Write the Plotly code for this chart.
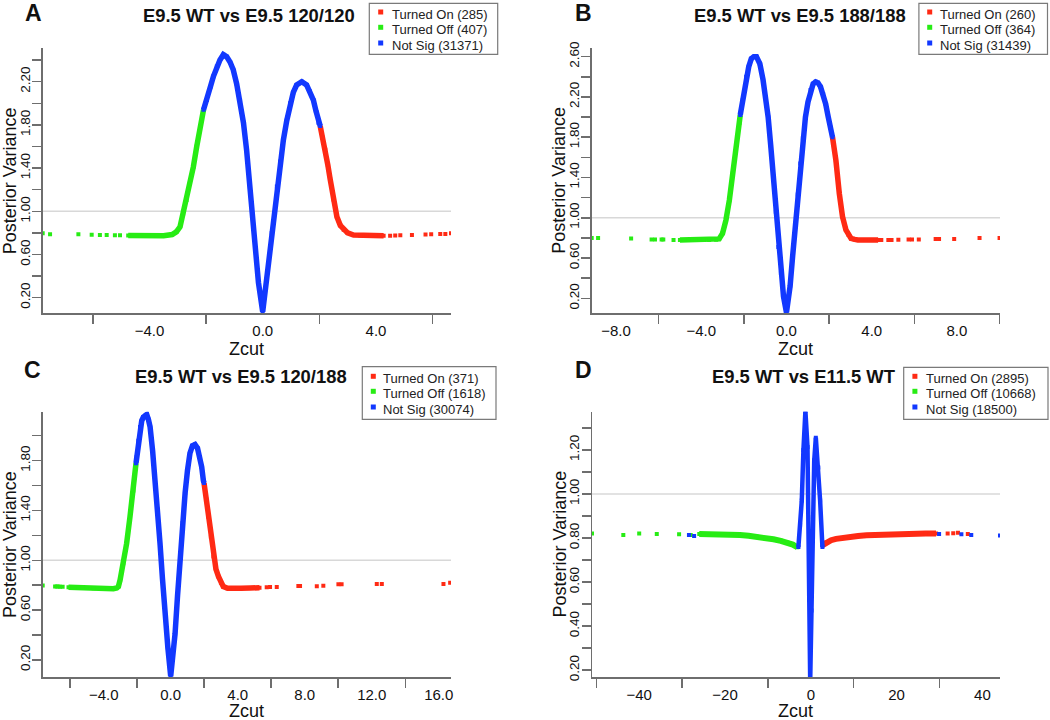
import plotly.graph_objects as go

W, H = 1050, 720
FONT = "Liberation Sans, Arial, Helvetica, sans-serif"
RED = "#ff2a14"
GREEN = "#27ec14"
BLUE = "#1238ff"
AXIS = "#6e6e6e"

# ---------------- data ----------------
# Panel A : E9.5 WT vs E9.5 120/120
A_off_tail_x = [-7.77, -7.51, -6.51, -6.04, -5.75, -5.51, -5.22, -5.04]
A_off_tail_y = [0.796, 0.787, 0.787, 0.783, 0.780, 0.780, 0.778, 0.778]
A_off_x = [-4.75, -4.3, -3.9, -3.5, -3.2, -3.05, -2.92, -2.81, -2.69, -2.57, -2.45, -2.33, -2.21, -2.09]
A_off_y = [0.776, 0.774, 0.772, 0.774, 0.785, 0.81, 0.857, 0.98, 1.105, 1.26, 1.41, 1.60, 1.79, 1.94]
A_ns_x = [-2.09, -1.97, -1.85, -1.74, -1.62, -1.51, -1.39, -1.27, -1.15, -1.04, -0.92, -0.80, -0.68,
          -0.57, -0.45, -0.33, -0.15, 0.0, 0.14, 0.32, 0.50, 0.62, 0.73, 0.85, 0.97, 1.08, 1.20,
          1.38, 1.55, 1.67, 1.79, 1.88, 1.97, 2.03]
A_ns_y = [1.94, 2.03, 2.15, 2.25, 2.34, 2.40, 2.45, 2.43, 2.38, 2.31, 2.18, 2.03, 1.82,
          1.57, 1.22, 0.86, 0.34, 0.07, 0.37, 0.80, 1.23, 1.46, 1.66, 1.84, 2.00, 2.10, 2.17,
          2.20, 2.17, 2.11, 2.03, 1.93, 1.82, 1.79]
A_on_x = [2.03, 2.12, 2.21, 2.30, 2.38, 2.50, 2.62, 2.74, 2.86, 3.0, 3.21, 3.45, 3.68, 4.0, 4.27]
A_on_y = [1.79, 1.68, 1.57, 1.43, 1.30, 1.11, 0.95, 0.87, 0.83, 0.80, 0.78, 0.776, 0.774, 0.774, 0.774]
A_on_tail_x = [4.5, 4.68, 4.86, 5.27, 5.75, 5.95, 6.27, 6.45, 6.65]
A_on_tail_y = [0.775, 0.776, 0.778, 0.78, 0.786, 0.787, 0.79, 0.79, 0.796]

# Panel B : E9.5 WT vs E9.5 188/188
B_off_tail_x = [-9.14, -8.84, -7.29, -6.33, -6.17, -5.86, -5.78, -5.30]
B_off_tail_y = [0.80, 0.80, 0.795, 0.785, 0.785, 0.785, 0.785, 0.779]
B_off_x = [-5.0, -4.6, -4.27, -3.9, -3.63, -3.3, -3.16, -3.0, -2.84, -2.68, -2.52, -2.37, -2.21, -2.17]
B_off_y = [0.779, 0.779, 0.779, 0.779, 0.779, 0.782, 0.79, 0.845, 0.977, 1.175, 1.44, 1.70, 1.94, 2.02]
B_ns_x = [-2.17, -2.05, -1.89, -1.77, -1.65, -1.53, -1.41, -1.25, -1.10, -0.98, -0.86, -0.74, -0.62,
          -0.50, -0.38, -0.26, -0.14, 0.0, 0.17, 0.29, 0.41, 0.53, 0.65, 0.77, 0.89, 1.01, 1.13,
          1.25, 1.37, 1.48, 1.60, 1.72, 1.84, 1.95, 2.05, 2.16]
B_ns_y = [2.02, 2.17, 2.40, 2.50, 2.58, 2.60, 2.60, 2.53, 2.37, 2.20, 2.00, 1.72, 1.41,
          1.06, 0.71, 0.45, 0.22, 0.06, 0.32, 0.62, 0.91, 1.23, 1.54, 1.79, 2.00, 2.15, 2.27,
          2.33, 2.35, 2.34, 2.30, 2.23, 2.13, 2.01, 1.90, 1.80]
B_on_x = [2.16, 2.32, 2.48, 2.63, 2.79, 2.91, 3.03, 3.2, 3.35, 3.7, 3.98, 4.3]
B_on_y = [1.80, 1.57, 1.24, 1.01, 0.88, 0.83, 0.795, 0.785, 0.779, 0.779, 0.779, 0.779]
B_on_tail_x = [4.45, 4.78, 4.93, 5.25, 5.73, 5.89, 6.21, 7.0, 7.16, 7.87, 9.06, 10.0]
B_on_tail_y = [0.779, 0.779, 0.779, 0.782, 0.785, 0.785, 0.785, 0.79, 0.79, 0.79, 0.80, 0.80]

# Panel C : E9.5 WT vs E9.5 120/188
C_off_tail_x = [-7.64, -6.9, -6.8, -6.7, -6.6, -6.45]
C_off_tail_y = [0.797, 0.789, 0.789, 0.789, 0.787, 0.787]
C_off_x = [-6.1, -5.5, -5.01, -4.6, -4.22, -3.8, -3.42, -3.22, -3.12, -3.02, -2.83, -2.63, -2.43, -2.23, -2.07]
C_off_y = [0.783, 0.780, 0.778, 0.775, 0.772, 0.772, 0.772, 0.778, 0.79, 0.842, 0.976, 1.136, 1.35, 1.56, 1.78]
C_ns_x = [-2.07, -2.03, -1.93, -1.83, -1.73, -1.63, -1.53, -1.43, -1.33, -1.23, -1.08, -0.94, -0.79,
          -0.64, -0.49, -0.34, -0.17, 0.0, 0.13, 0.26, 0.41, 0.56, 0.71, 0.86, 1.0, 1.15, 1.30,
          1.45, 1.60, 1.75, 1.85, 1.95, 1.99]
C_ns_y = [1.78, 1.83, 1.96, 2.07, 2.12, 2.15, 2.16, 2.17, 2.13, 2.07, 1.88, 1.67, 1.41,
          1.14, 0.85, 0.55, 0.30, 0.07, 0.23, 0.41, 0.72, 1.03, 1.30, 1.54, 1.72, 1.86, 1.92,
          1.93, 1.90, 1.83, 1.75, 1.64, 1.62]
C_on_x = [1.99, 2.12, 2.25, 2.4, 2.55, 2.7, 2.85, 3.0, 3.14, 3.4, 3.74, 4.2, 4.74, 5.3]
C_on_y = [1.62, 1.49, 1.35, 1.19, 1.03, 0.93, 0.87, 0.82, 0.789, 0.775, 0.772, 0.775, 0.778, 0.78]
C_on_tail_x = [5.73, 5.93, 6.33, 7.62, 7.72, 8.72, 9.11, 10.01, 10.2, 12.3, 12.6, 16.28, 16.68]
C_on_tail_y = [0.783, 0.785, 0.785, 0.794, 0.794, 0.792, 0.796, 0.807, 0.807, 0.81, 0.81, 0.81, 0.82]

# Panel D : E9.5 WT vs E11.5 WT
D_off_tail_x = [-51.0, -43.7, -40.0, -35.9, -30.7, -28.0]
D_off_tail_y = [0.821, 0.814, 0.821, 0.818, 0.817, 0.814]
D_off_x = [-26.0, -23.0, -20.5, -18.5, -16.5, -14.5, -12.6, -10.6, -8.7, -7.0, -5.5, -4.2, -3.15]
D_off_y = [0.818, 0.818, 0.817, 0.816, 0.814, 0.810, 0.806, 0.800, 0.794, 0.787, 0.779, 0.770, 0.758]
D_ns_x = [-2.89, -2.5, -2.1, -1.72, -1.26, -0.77, -0.40, -0.14, 0.16, 0.49, 0.80, 1.17, 1.75, 2.17, 2.71]
D_ns_y = [0.759, 0.86, 0.971, 1.20, 1.377, 1.214, 0.623, 0.15, 0.47, 0.895, 1.153, 1.256, 1.12, 0.971, 0.759]
D_ns_pts_x = [-28.4, -27.2, 29.9, 35.1, 37.4, 44.1]
D_ns_pts_y = [0.814, 0.809, 0.818, 0.817, 0.814, 0.811]
D_on_x = [2.76, 3.6, 4.73, 5.9, 7.09, 9.0, 11.0, 13.0, 15.0, 18.9, 22.9, 26.8, 29.2]
D_on_y = [0.768, 0.780, 0.790, 0.796, 0.800, 0.805, 0.809, 0.812, 0.814, 0.817, 0.818, 0.820, 0.821]
D_on_tail_x = [31.9, 33.2, 34.3, 36.6]
D_on_tail_y = [0.821, 0.822, 0.824, 0.818]

# legend counts
A_counts = [285, 407, 31371]
B_counts = [260, 364, 31439]
C_counts = [371, 1618, 30074]
D_counts = [2895, 10668, 18500]

# tick labels
A_xmajor = [-4, 0, 4]
A_xminor = [-6, -2, 2, 6]
B_xmajor = [-8, -4, 0, 4, 8]
B_xminor = [-6, -2, 2, 6, 10]
C_xmajor = [-4, 0, 4, 8, 12, 16]
C_xminor = [-6, -2, 2, 6, 10, 14]
D_xmajor = [-40, -20, 0, 20, 40]
D_xminor = [-50, -30, -10, 10, 30]
A_ymajor = [0.2, 0.6, 1.0, 1.4, 1.8, 2.2]
A_yminor = [0.4, 0.8, 1.2, 1.6, 2.0, 2.4]
B_ymajor = [0.2, 0.6, 1.0, 1.4, 1.8, 2.2, 2.6]
B_yminor = [0.4, 0.8, 1.2, 1.6, 2.0, 2.4]
C_ymajor = [0.2, 0.6, 1.0, 1.4, 1.8]
C_yminor = [0.4, 0.8, 1.2, 1.6, 2.0]
D_ymajor = [0.2, 0.4, 0.6, 0.8, 1.0, 1.2]
D_yminor = [0.3, 0.5, 0.7, 0.9, 1.1, 1.3]

titles = ["E9.5 WT vs E9.5 120/120", "E9.5 WT vs E9.5 188/188",
          "E9.5 WT vs E9.5 120/188", "E9.5 WT vs E11.5 WT"]
letters = ["A", "B", "C", "D"]
labels = ["Turned On", "Turned Off", "Not Sig"]

# ---------------- layout geometry (pixels) ----------------
def PX(p):
    return p / W


def PY(p):
    return 1 - p / H


panels = [
    dict(xpx=(42.7, 451.0), ypx=(48.3, 313.3), xr=(-7.77, 6.65), yr=(0.056, 2.509),
         xfmt=".1f", yfmt=".2f", xmaj=A_xmajor, xmin=A_xminor, ymaj=A_ymajor, ymin=A_yminor,
         data=(A_off_tail_x, A_off_tail_y, A_off_x, A_off_y, A_ns_x, A_ns_y, A_on_x, A_on_y,
               A_on_tail_x, A_on_tail_y), counts=A_counts,
         title=(249.2, 15), letter=(33.5, 13), legend=(369.3, 3.3, 497.7, 54.3, 380.7, 391.7),
         rows=(14, 29.3, 45), ytitle=(9.5, 180.8), xtitle=(246.9, 349.3), width=5.5),
    dict(xpx=(591.7, 1000.0), ypx=(48.3, 313.3), xr=(-9.14, 10.02), yr=(0.051, 2.683),
         xfmt=".1f", yfmt=".2f", xmaj=B_xmajor, xmin=B_xminor, ymaj=B_ymajor, ymin=B_yminor,
         data=(B_off_tail_x, B_off_tail_y, B_off_x, B_off_y, B_ns_x, B_ns_y, B_on_x, B_on_y,
               B_on_tail_x, B_on_tail_y), counts=B_counts,
         title=(800.3, 15), letter=(583.4, 13), legend=(918.9, 3.3, 1047.5, 54.3, 929.7, 940.2),
         rows=(14, 29.3, 45), ytitle=(559.0, 180.8), xtitle=(795.8, 349.3), width=5.5),
    dict(xpx=(42.7, 451.0), ypx=(411.7, 677.3), xr=(-7.64, 16.73), yr=(0.061, 2.193),
         xfmt=".1f", yfmt=".2f", xmaj=C_xmajor, xmin=C_xminor, ymaj=C_ymajor, ymin=C_yminor,
         data=(C_off_tail_x, C_off_tail_y, C_off_x, C_off_y, C_ns_x, C_ns_y, C_on_x, C_on_y,
               C_on_tail_x, C_on_tail_y), counts=C_counts,
         title=(240.8, 376.7), letter=(32.8, 370), legend=(362.3, 366.7, 496.0, 419.3, 373.3, 383.3),
         rows=(378.3, 393.3, 409.0), ytitle=(9.5, 544.5), xtitle=(246.9, 711.2), width=5.5),
    dict(xpx=(592.0, 1000.0), ypx=(411.7, 677.3), xr=(-51.0, 44.1), yr=(0.167, 1.374),
         xfmt="d", yfmt=".2f", xmaj=D_xmajor, xmin=D_xminor, ymaj=D_ymajor, ymin=D_yminor,
         data=(D_off_tail_x, D_off_tail_y, D_off_x, D_off_y, D_ns_x, D_ns_y, D_on_x, D_on_y,
               D_on_tail_x, D_on_tail_y), counts=D_counts,
         title=(803.7, 376.7), letter=(583.4, 370), legend=(903.7, 367.3, 1048.0, 419.3, 914.9, 925.7),
         rows=(378.3, 393.3, 409.0), ytitle=(559.0, 544.5), xtitle=(795.8, 711.2), width=6),
]

fig = go.Figure()
shapes = []
annotations = []

for i, p in enumerate(panels):
    n = "" if i == 0 else str(i + 1)
    xa, ya = "x" + n, "y" + n
    (otx, oty, ox, oy, nx, ny, onx, ony, ontx, onty) = p["data"]
    lw = p["width"]
    mk = dict(symbol="square", size=4)

    fig.add_trace(go.Scatter(x=otx, y=oty, mode="markers", xaxis=xa, yaxis=ya,
                             marker=dict(color=GREEN, **mk), showlegend=False, cliponaxis=True))
    fig.add_trace(go.Scatter(x=ox, y=oy, mode="lines+markers", xaxis=xa, yaxis=ya,
                             line=dict(color=GREEN, width=lw), marker=dict(color=GREEN, **mk),
                             showlegend=False))
    fig.add_trace(go.Scatter(x=onx, y=ony, mode="lines+markers", xaxis=xa, yaxis=ya,
                             line=dict(color=RED, width=lw), marker=dict(color=RED, **mk),
                             showlegend=False))
    fig.add_trace(go.Scatter(x=ontx, y=onty, mode="markers", xaxis=xa, yaxis=ya,
                             marker=dict(color=RED, **mk), showlegend=False))
    fig.add_trace(go.Scatter(x=nx, y=ny, mode="lines+markers", xaxis=xa, yaxis=ya,
                             line=dict(color=BLUE, width=lw if i < 3 else 4.5),
                             marker=dict(color=BLUE, **mk), showlegend=False))
    if i == 3:
        fig.add_trace(go.Scatter(x=D_ns_pts_x, y=D_ns_pts_y, mode="markers", xaxis=xa, yaxis=ya,
                                 marker=dict(color=BLUE, **mk), showlegend=False))

    xd = [PX(p["xpx"][0]), PX(p["xpx"][1])]
    yd = [PY(p["ypx"][1]), PY(p["ypx"][0])]
    fig.layout["xaxis" + n] = dict(
        domain=xd, anchor=ya, range=list(p["xr"]), showline=True, linecolor=AXIS, linewidth=1.5,
        showgrid=False, zeroline=False, ticks="outside", ticklen=3, tickcolor="rgba(0,0,0,0)",
        tickmode="array", tickvals=p["xmaj"], tickformat=p["xfmt"],
        tickfont=dict(family=FONT, size=15, color="#111111"),
        minor=dict(ticks="outside", tickmode="array", tickvals=p["xmin"], ticklen=9,
                   tickcolor=AXIS, tickwidth=1.5),
        automargin=False, fixedrange=True)
    fig.layout["yaxis" + n] = dict(
        domain=yd, anchor=xa, range=list(p["yr"]), showline=True, linecolor=AXIS, linewidth=1.5,
        showgrid=False, zeroline=False, ticks="outside", ticklen=9, tickcolor=AXIS, tickwidth=1.5,
        tickmode="array", tickvals=p["ymaj"], tickformat=p["yfmt"], tickangle=-90,
        ticklabelstandoff=-3,
        tickfont=dict(family=FONT, size=13.5, color="#111111"),
        minor=dict(ticks="outside", tickmode="array", tickvals=p["ymin"], ticklen=9,
                   tickcolor=AXIS, tickwidth=1.5),
        automargin=False, fixedrange=True)

    # reference line at 1.0
    shapes.append(dict(type="line", xref=xa + " domain", yref=ya, x0=0, x1=1, y0=1.0, y1=1.0,
                       line=dict(color="#d8d8d8", width=1.5), layer="below"))

    # titles & letters
    annotations.append(dict(text="<b>%s</b>" % titles[i], x=PX(p["title"][0]), y=PY(p["title"][1]),
                            xref="paper", yref="paper", xanchor="center", yanchor="middle",
                            showarrow=False, font=dict(family=FONT, size=18.4, color="#111111")))
    annotations.append(dict(text="<b>%s</b>" % letters[i], x=PX(p["letter"][0]), y=PY(p["letter"][1]),
                            xref="paper", yref="paper", xanchor="center", yanchor="middle",
                            showarrow=False, font=dict(family=FONT, size=23, color="#111111")))
    annotations.append(dict(text="Posterior Variance", x=PX(p["ytitle"][0]), y=PY(p["ytitle"][1]),
                            xref="paper", yref="paper", xanchor="center", yanchor="middle",
                            textangle=-90, showarrow=False, borderpad=0,
                            font=dict(family=FONT, size=18, color="#111111")))
    annotations.append(dict(text="Zcut", x=PX(p["xtitle"][0]), y=PY(p["xtitle"][1]),
                            xref="paper", yref="paper", xanchor="center", yanchor="middle",
                            showarrow=False, borderpad=0,
                            font=dict(family=FONT, size=18, color="#111111")))

    # legend box
    lx0, ly0, lx1, ly1, mx, tx = p["legend"]
    shapes.append(dict(type="rect", xref="paper", yref="paper", x0=PX(lx0), x1=PX(lx1),
                       y0=PY(ly1), y1=PY(ly0), line=dict(color="#7a7a7a", width=1.2),
                       fillcolor="white", layer="above"))
    for lab, col, cnt, ry in zip(labels, [RED, GREEN, BLUE], p["counts"], p["rows"]):
        shapes.append(dict(type="rect", xref="paper", yref="paper",
                           x0=PX(mx - 2.5), x1=PX(mx + 2.5), y0=PY(ry - 2 + 2.5), y1=PY(ry - 2 - 2.5),
                           line=dict(width=0), fillcolor=col, layer="above"))
        annotations.append(dict(text="%s (%d)" % (lab, cnt), x=PX(tx - 2), y=PY(ry),
                                xref="paper", yref="paper", xanchor="left", yanchor="middle",
                                showarrow=False, font=dict(family=FONT, size=13, color="#222222")))

fig.update_layout(width=W, height=H, margin=dict(l=0, r=0, t=0, b=0, autoexpand=False),
                  paper_bgcolor="white", plot_bgcolor="white", showlegend=False,
                  shapes=shapes, annotations=annotations,
                  font=dict(family=FONT, color="#111111"))

fig.write_html("out.html", config={"displayModeBar": False, "staticPlot": True},
               post_script="document.body.style.margin='0px';document.body.style.padding='0px';"
                           "document.body.style.overflow='hidden';")
